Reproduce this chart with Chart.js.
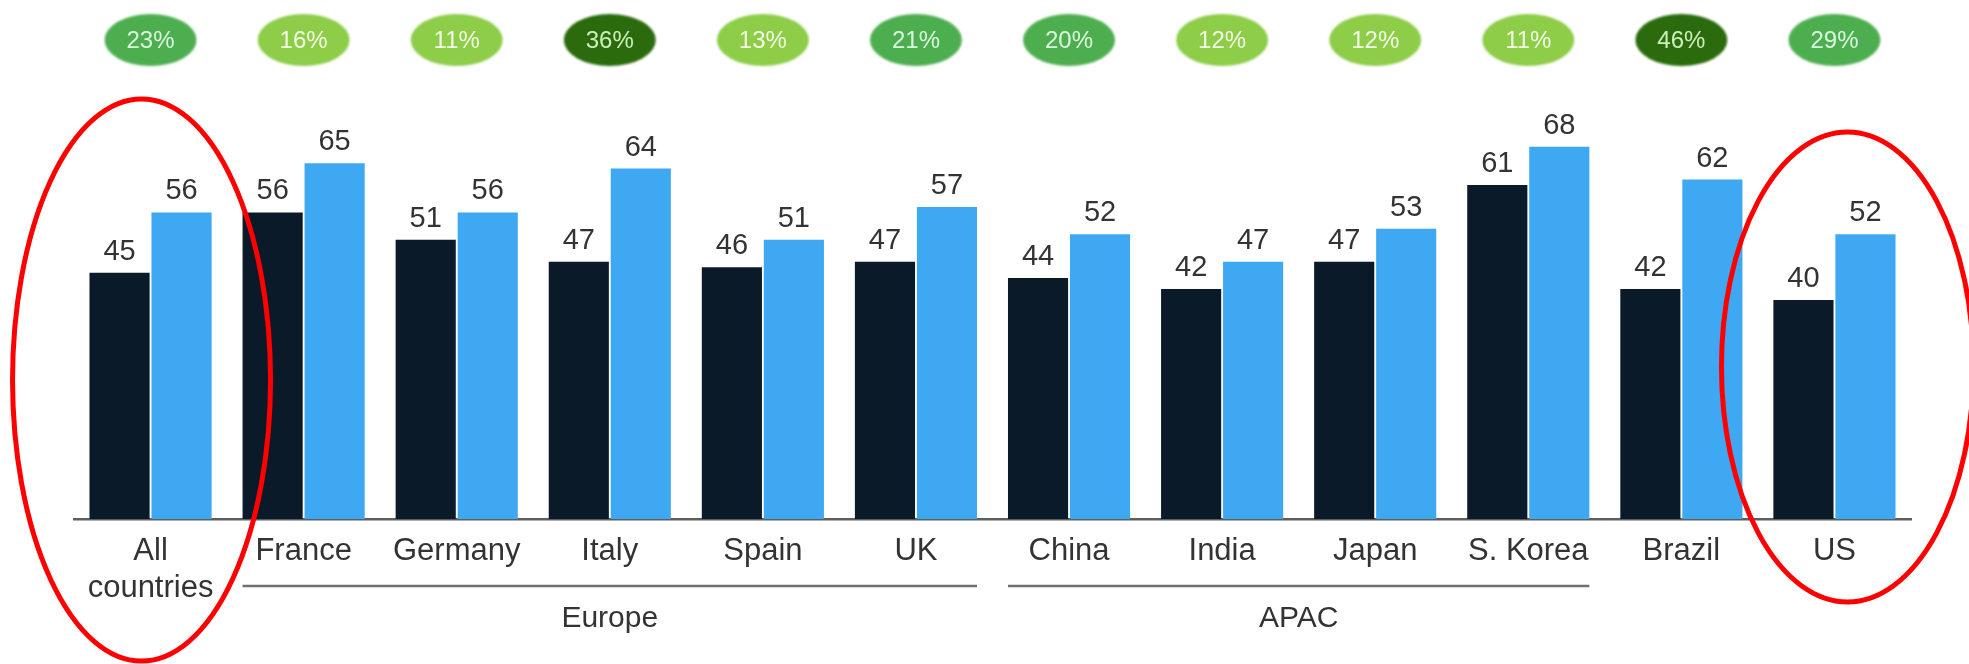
<!DOCTYPE html>
<html>
<head>
<meta charset="utf-8">
<script src="https://cdn.jsdelivr.net/npm/chart.js@4/dist/chart.umd.min.js"></script>
<style>
  html, body { margin: 0; padding: 0; background: #ffffff; }
  #wrap { width: 1969px; height: 664px; position: relative; }
</style>
</head>
<body>
<div id="wrap"><canvas id="chart" width="1969" height="664"></canvas></div>
<script>
// Categories (multi-line label for the first one)
const categories = [
  ['All', 'countries'], 'France', 'Germany', 'Italy', 'Spain', 'UK',
  'China', 'India', 'Japan', 'S. Korea', 'Brazil', 'US'
];

// Bar values per category
const seriesDark = [45, 56, 51, 47, 46, 47, 44, 42, 47, 61, 42, 40];
const seriesBlue = [56, 65, 56, 64, 51, 57, 52, 47, 53, 68, 62, 52];

// Percentages shown in the badges above each category
const badgeValues = [23, 16, 11, 36, 13, 21, 20, 12, 12, 11, 46, 29];

// Regional groupings drawn under the category labels (category index ranges)
const groupNames = ['Europe', 'APAC'];
const groupStart = [1, 6];
const groupEnd = [5, 9];

// Categories circled in red
const circledIndex = [0, 11];

const FONT = '"Liberation Sans", Arial, Helvetica, sans-serif';

function badgeStyle(v) {
  if (v >= 30) return { fill: '#2b6a0d', text: '#cdf0bb' };
  if (v >= 20) return { fill: '#4dae50', text: '#dcfadf' };
  return { fill: '#8dcd48', text: '#f3fce6' };
}

const overlayPlugin = {
  id: 'overlay',
  afterDatasetsDraw(chart) {
    const { ctx, chartArea, scales } = chart;
    const x = scales.x;
    const m0 = chart.getDatasetMeta(0);
    const m1 = chart.getDatasetMeta(1);

    // value labels above bars
    ctx.save();
    ctx.font = '29px ' + FONT;
    ctx.fillStyle = '#333333';
    ctx.textAlign = 'center';
    ctx.textBaseline = 'alphabetic';
    [m0, m1].forEach((meta, di) => {
      const vals = di === 0 ? seriesDark : seriesBlue;
      meta.data.forEach((bar, i) => {
        ctx.fillText(String(vals[i]), bar.x, bar.y - 13);
      });
    });
    ctx.restore();

    // badges at the top
    badgeValues.forEach((v, i) => {
      const cx = x.getPixelForValue(i);
      const cy = 40;
      const st = badgeStyle(v);
      ctx.save();
      ctx.filter = 'blur(0.8px)';
      ctx.beginPath();
      ctx.ellipse(cx, cy, 46, 26, 0, 0, Math.PI * 2);
      ctx.fillStyle = st.fill;
      ctx.fill();
      ctx.filter = 'blur(0.3px)';
      ctx.fillStyle = st.text;
      ctx.font = '24px ' + FONT;
      ctx.textAlign = 'center';
      ctx.textBaseline = 'middle';
      ctx.fillText(v + '%', cx, cy + 1);
      ctx.restore();
    });

    // group brackets and names
    ctx.save();
    ctx.strokeStyle = '#6f6f6f';
    ctx.lineWidth = 2.5;
    ctx.fillStyle = '#333333';
    ctx.font = '30px ' + FONT;
    ctx.textAlign = 'center';
    ctx.textBaseline = 'middle';
    groupNames.forEach((name, g) => {
      const b0 = m0.data[groupStart[g]];
      const b1 = m1.data[groupEnd[g]];
      const left = b0.x - b0.width / 2;
      const right = b1.x + b1.width / 2;
      const ly = chartArea.bottom + 67;
      ctx.beginPath();
      ctx.moveTo(left, ly);
      ctx.lineTo(right, ly);
      ctx.stroke();
      ctx.fillText(name, (left + right) / 2, chartArea.bottom + 100);
    });
    ctx.restore();

    // red circles around highlighted categories
    ctx.save();
    ctx.strokeStyle = '#ff0000';
    ctx.lineWidth = 5;
    circledIndex.forEach((idx, k) => {
      const cx = x.getPixelForValue(idx) + (k === 0 ? -9 : 13);
      const cy = k === 0 ? chartArea.bottom - 139 : chartArea.bottom - 152;
      const rx = k === 0 ? 129 : 126;
      const ry = k === 0 ? 281 : 235;
      ctx.beginPath();
      ctx.ellipse(cx, cy, rx, ry, 0, 0, Math.PI * 2);
      ctx.stroke();
    });
    ctx.restore();
  }
};

new Chart(document.getElementById('chart'), {
  type: 'bar',
  data: {
    labels: categories,
    datasets: [
      {
        label: 'Series 1',
        data: seriesDark,
        backgroundColor: '#0b1a28',
        categoryPercentage: 0.81,
        barPercentage: 0.97
      },
      {
        label: 'Series 2',
        data: seriesBlue,
        backgroundColor: '#3fa8f2',
        categoryPercentage: 0.81,
        barPercentage: 0.97
      }
    ]
  },
  options: {
    responsive: false,
    animation: false,
    devicePixelRatio: 1,
    layout: { padding: { left: 74, right: 58, top: 81, bottom: 0 } },
    plugins: {
      legend: { display: false },
      tooltip: { enabled: false }
    },
    scales: {
      x: {
        grid: { display: false, drawTicks: false },
        border: { display: true, color: '#5e5e5e', width: 2.5 },
        ticks: {
          color: '#333333',
          font: { family: FONT, size: 31 },
          padding: 14,
          maxRotation: 0,
          autoSkip: false
        },
        afterFit(scale) { scale.height = 145; }
      },
      y: {
        display: false,
        min: 0,
        max: 80
      }
    }
  },
  plugins: [overlayPlugin]
});
</script>
</body>
</html>
